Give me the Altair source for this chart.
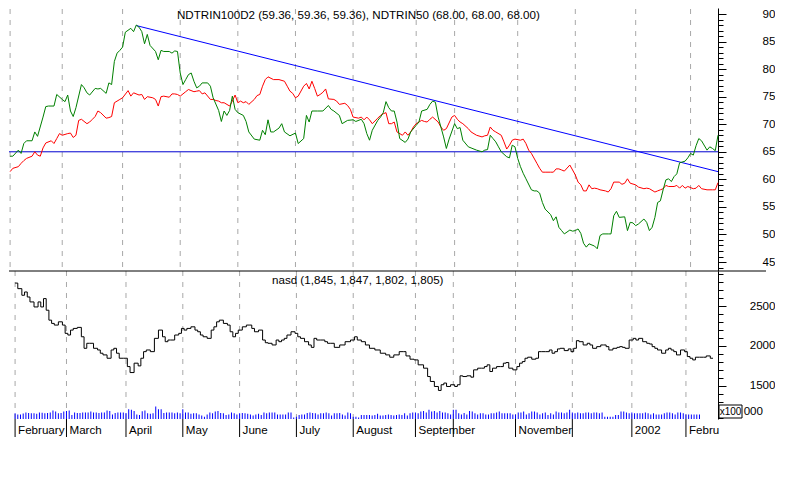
import altair as alt
import pandas as pd

FONT = "Liberation Sans"
FS = 11.6
W, H1, H2 = 709, 263, 148
X_DOMAIN = [-0.4, 258]
UP_DOMAIN = [43.37, 91.09]
LOW_DOMAIN = [1082, 2943]
VOL_DOMAIN = [0, 518]

title_up = "NDTRIN100D2 (59.36, 59.36, 59.36), NDTRIN50 (68.00, 68.00, 68.00)"
title_low = "nasd (1,845, 1,847, 1,802, 1,805)"

# trading-day index : value
red_series = {
    0: 61.4, 1: 62.0, 3: 62.3, 4: 62.9, 5: 63.4, 6: 63.8, 8: 64.2, 9: 65.0, 10: 64.4, 11: 64.2,
    12: 65.7, 13: 66.6, 15: 67.0, 16: 66.5, 17: 67.4, 18: 68.3, 19: 68.0, 21: 68.3, 22: 68.4, 23: 67.6,
    24: 68.0, 25: 70.7, 26: 70.9, 28: 70.1, 29: 70.4, 30: 70.9, 31: 71.4, 32: 72.4, 33: 72.1, 35: 71.1,
    36: 71.2, 37: 71.4, 38: 73.9, 40: 74.5, 41: 74.8, 43: 76.1, 44: 75.1, 45: 75.7, 47: 75.3, 48: 75.4,
    49: 74.5, 50: 75.0, 52: 74.8, 53: 74.5, 54: 73.3, 55: 75.0, 56: 75.1, 58: 74.9, 59: 75.5, 60: 75.5,
    61: 75.4, 62: 75.1, 64: 75.9, 65: 76.3, 67: 75.9, 68: 76.0, 69: 76.1, 70: 75.5, 71: 75.7, 73: 74.5,
    74: 74.5, 75: 74.3, 76: 74.2, 77: 73.9, 78: 73.9, 80: 73.3, 81: 74.2, 82: 75.3, 83: 73.9, 84: 74.2,
    85: 73.9, 86: 74.1, 87: 73.6, 89: 74.5, 90: 75.2, 91: 75.4, 92: 76.9, 93: 78.1, 94: 78.6, 96: 78.1,
    98: 78.1, 100: 77.8, 101: 76.9, 102: 76.0, 103: 75.6, 104: 74.8, 105: 75.1, 107: 76.9, 108: 77.4, 109: 76.4,
    110: 77.8, 111: 76.5, 112: 75.1, 113: 75.4, 114: 75.8, 115: 76.4, 116: 74.6, 118: 74.5, 119: 74.2, 120: 73.6,
    122: 73.8, 123: 73.4, 124: 72.7, 125: 71.3, 127: 71.1, 128: 71.3, 129: 70.8, 130: 71.3, 131: 70.8, 132: 70.1,
    134: 71.1, 135: 71.6, 136: 71.9, 137: 72.1, 138: 70.1, 139: 70.1, 140: 70.4, 141: 68.6, 143: 68.0, 144: 68.6,
    145: 68.0, 146: 68.6, 147: 69.5, 148: 70.1, 150: 70.7, 151: 70.5, 152: 70.4, 153: 70.9, 154: 71.3, 156: 70.4,
    157: 69.5, 158: 68.9, 159: 69.2, 161: 71.3, 162: 71.6, 163: 70.9, 164: 70.4, 165: 70.1, 167: 69.2, 168: 68.6,
    170: 68.0, 172: 67.7, 173: 67.9, 174: 68.0, 175: 69.5, 176: 68.9, 177: 68.6, 179: 68.0, 180: 66.8, 181: 65.5,
    182: 66.2, 183: 67.1, 184: 67.3, 186: 67.1, 187: 67.3, 188: 66.5, 189: 65.3, 190: 64.7, 192: 62.9, 193: 62.0,
    194: 61.3, 195: 61.3, 197: 61.3, 198: 61.3, 199: 61.9, 200: 61.9, 201: 61.7, 202: 61.5, 204: 62.6, 205: 61.7,
    206: 60.8, 207: 59.5, 208: 59.0, 209: 57.9, 210: 57.9, 211: 59.0, 212: 58.3, 213: 58.4, 214: 58.3, 215: 58.1,
    217: 57.9, 218: 57.7, 219: 58.3, 220: 59.5, 222: 59.5, 223: 59.1, 224: 59.3, 225: 60.1, 226: 59.3, 228: 59.0,
    229: 58.6, 231: 58.3, 232: 58.4, 233: 58.3, 235: 57.7, 236: 57.9, 237: 58.1, 238: 58.3, 239: 58.9, 240: 58.7,
    242: 58.7, 243: 58.9, 244: 58.4, 245: 58.9, 246: 58.4, 247: 58.7, 249: 58.3, 250: 58.4, 251: 58.9, 252: 58.3,
    254: 58.1, 256: 58.1, 257: 58.1, 258: 59.4,
}

green_series = {
    0: 64.2, 1: 64.2, 3: 65.3, 4: 64.7, 5: 66.5, 6: 67.0, 8: 67.0, 9: 68.6, 10: 67.8, 12: 71.3,
    13: 73.2, 14: 73.3, 16: 73.3, 17: 75.4, 19: 74.5, 20: 74.1, 21: 75.3, 22: 72.4, 23: 71.4, 24: 73.0,
    26: 77.2, 27: 76.6, 28: 75.7, 29: 75.3, 31: 76.5, 32: 76.4, 33: 76.5, 35: 75.6, 36: 77.5, 37: 77.2,
    38: 81.4, 39: 82.9, 40: 83.4, 41: 84.0, 42: 86.7, 44: 87.4, 45: 86.8, 46: 88.0, 47: 87.6, 48: 86.8,
    49: 84.6, 50: 86.3, 51: 84.3, 53: 83.2, 54: 81.7, 55: 83.4, 56: 83.2, 58: 83.2, 59: 82.9, 60: 83.3,
    61: 83.2, 62: 79.3, 63: 77.2, 64: 78.1, 65: 79.0, 66: 79.3, 67: 77.8, 68: 76.6, 69: 76.9, 70: 77.5,
    72: 77.5, 73: 76.9, 74: 74.8, 76: 72.5, 77: 70.5, 78: 72.4, 79: 71.6, 80: 72.5, 81: 75.1, 82: 72.7,
    83: 72.1, 85: 71.6, 86: 70.5, 87: 68.6, 89: 67.3, 91: 67.1, 92: 68.9, 93: 68.1, 94: 70.8, 95: 68.6,
    96: 68.6, 98: 69.3, 99: 70.1, 100: 68.6, 102: 67.9, 104: 68.4, 105: 66.5, 107: 67.4, 108: 71.6, 109: 70.4,
    110: 72.4, 112: 72.4, 114: 72.4, 116: 73.4, 117: 72.7, 118: 72.4, 120: 71.6, 121: 70.1, 123: 70.7, 125: 70.8,
    126: 70.5, 128: 70.9, 129: 70.1, 130: 68.3, 131: 67.1, 132: 68.9, 134: 70.7, 135: 71.3, 136: 72.1, 137: 74.1,
    138: 73.0, 139: 72.4, 140: 72.4, 141: 70.4, 142: 67.4, 144: 66.7, 145: 67.3, 146: 68.6, 148: 69.8, 149: 70.4,
    150: 72.4, 152: 72.7, 153: 73.6, 154: 74.2, 155: 74.0, 156: 71.3, 157: 69.5, 158: 67.7, 159: 65.6, 160: 67.3,
    162: 70.1, 163: 69.2, 164: 69.4, 165: 67.1, 167: 65.9, 168: 65.7, 170: 65.3, 172: 65.0, 173: 65.3, 174: 65.4,
    175: 68.0, 176: 67.4, 177: 66.8, 178: 65.9, 179: 65.0, 181: 64.1, 182: 63.9, 183: 66.2, 184: 65.9, 185: 63.8,
    186: 62.3, 187: 61.1, 188: 60.1, 190: 58.1, 191: 57.9, 192: 57.9, 193: 57.5, 194: 55.8, 195: 54.6, 197: 53.6,
    198: 52.5, 199: 53.2, 200: 51.3, 201: 50.7, 202: 50.1, 204: 50.8, 205: 50.6, 206: 50.7, 207: 51.0, 208: 50.2,
    209: 48.4, 210: 47.7, 211: 48.3, 213: 47.9, 214: 47.4, 215: 49.8, 216: 50.1, 218: 50.1, 219: 50.1, 220: 53.4,
    221: 54.2, 222: 53.1, 224: 53.2, 225: 50.7, 226: 52.2, 227: 52.1, 228: 51.6, 229: 51.9, 231: 52.8, 232: 52.2,
    233: 50.7, 234: 51.3, 235: 53.1, 236: 55.8, 237: 56.1, 238: 58.1, 239: 59.9, 240: 60.1, 241: 59.6, 242: 60.5,
    243: 61.0, 244: 63.0, 246: 63.3, 247: 63.9, 248: 64.7, 249: 64.4, 250: 66.1, 251: 67.4, 252: 67.0, 254: 65.3,
    255: 65.9, 256: 65.6, 257: 65.2, 258: 68.0,
}

nasd_series = {
    0: 2791, 2: 2721, 3: 2638, 4: 2679, 5: 2616, 6: 2554, 8: 2491, 9: 2554, 10: 2491, 11: 2596,
    12: 2450, 13: 2325, 14: 2284, 15: 2263, 17: 2304, 18: 2263, 19: 2159, 20: 2138, 21: 2200, 22: 2221,
    24: 2234, 25: 2116, 26: 1971, 27: 2034, 28: 2034, 30: 1971, 31: 1950, 32: 1909, 33: 1888, 35: 1846,
    36: 1950, 37: 1971, 38: 1909, 39: 1846, 41: 1846, 42: 1741, 43: 1666, 45: 1784, 46: 1750, 47: 1846,
    48: 1929, 49: 1950, 51: 1929, 52: 2096, 54: 2200, 55: 2116, 56: 2054, 57: 2075, 58: 2075, 60: 2138,
    61: 2159, 62: 2221, 63: 2200, 64: 2221, 66: 2241, 67: 2200, 68: 2179, 69: 2138, 70: 2116, 72: 2096,
    73: 2200, 74: 2241, 75: 2304, 76: 2325, 78: 2284, 79: 2263, 80: 2179, 81: 2116, 82: 2159, 83: 2200,
    85: 2241, 86: 2263, 87: 2263, 88: 2221, 89: 2179, 91: 2200, 92: 2075, 93: 2041, 94: 2034, 96: 2013,
    97: 2075, 98: 2054, 99: 2075, 100: 2096, 101: 2138, 103: 2179, 104: 2159, 105: 2116, 106: 2096, 108: 2054,
    109: 2013, 110: 1983, 111: 2096, 112: 2075, 114: 2075, 115: 2054, 116: 2034, 117: 2034, 119: 1983, 121: 2013,
    123: 2054, 125: 2075, 126: 2116, 127: 2075, 129: 2054, 130: 2013, 132: 1971, 134: 1950, 136: 1909, 138: 1888,
    139: 1859, 141: 1888, 143: 1929, 144: 1929, 145: 1875, 147: 1834, 148: 1825, 150: 1763, 152: 1721, 153: 1616,
    154: 1554, 156: 1491, 157: 1441, 158: 1513, 159: 1534, 160: 1491, 162: 1513, 163: 1491, 164: 1513, 165: 1625,
    166: 1616, 168: 1625, 169: 1608, 170: 1700, 172: 1721, 173: 1721, 174: 1741, 175: 1763, 176: 1679, 177: 1721,
    179: 1741, 180: 1741, 181: 1784, 182: 1792, 183: 1721, 185: 1700, 186: 1741, 187: 1784, 188: 1804, 189: 1846,
    190: 1859, 192: 1834, 193: 1846, 194: 1929, 195: 1929, 197: 1929, 198: 1950, 199: 1909, 200: 1929, 201: 1963,
    202: 1971, 204: 1942, 205: 1963, 206: 1929, 207: 1971, 208: 2067, 209: 2054, 211: 2013, 212: 2034, 213: 2013,
    214: 1971, 216: 1992, 217: 2013, 218: 2013, 219: 1992, 220: 1950, 222: 1971, 223: 1983, 224: 1992, 225: 1983,
    226: 1971, 228: 2075, 229: 2096, 230: 2075, 231: 2096, 233: 2054, 234: 2034, 235: 2025, 236: 1992, 237: 1971,
    238: 1950, 240: 1909, 241: 1950, 242: 1971, 243: 1950, 244: 1929, 245: 1888, 247: 1950, 248: 1929, 249: 1867,
    250: 1846, 251: 1825, 252: 1859, 254: 1859, 255: 1859, 256: 1875, 258: 1846,
}

# daily volume (x100 units)
volume = [
    20, 16, 16, 19, 23, 21, 20, 20, 18, 23, 22, 20, 21, 23, 30, 26, 20, 21, 26, 28,
    30, 14, 23, 21, 21, 23, 23, 23, 26, 23, 23, 21, 23, 23, 30, 28, 16, 21, 23, 23,
    23, 21, 34, 32, 28, 16, 14, 27, 30, 20, 18, 20, 44, 34, 34, 21, 23, 23, 23, 20,
    23, 20, 34, 23, 23, 18, 20, 20, 16, 12, 8, 16, 23, 20, 26, 28, 21, 20, 14, 16,
    23, 20, 16, 20, 21, 20, 18, 16, 12, 16, 18, 14, 23, 20, 23, 23, 23, 16, 16, 16,
    16, 23, 23, 5, 8, 14, 16, 16, 21, 23, 21, 20, 16, 20, 20, 23, 20, 12, 20, 20,
    21, 16, 12, 23, 20, 8, 8, 5, 14, 14, 14, 14,
    12, 14, 18, 12, 12, 14, 16, 14, 12, 14, 16, 14, 20, 12, 20, 23, 23, 20, 26, 28,
    23, 32, 26, 28, 23, 28, 23, 23, 20, 16, 32, 32, 20, 16, 21, 16, 28, 26, 20, 16,
    20, 20, 16, 16, 20, 20, 23, 26, 20, 20, 20, 20, 16, 16, 23, 23, 26, 16, 20, 26,
    26, 23, 16, 20, 23, 14, 20, 16, 26, 23, 23, 20, 23, 32, 23, 20, 23, 20, 20, 23,
    23, 20, 23, 23, 20, 23, 8, 8, 8, 8, 14, 14, 26, 26, 23, 20, 23, 20, 20, 20,
    20, 23, 20, 16, 20, 16, 16, 16, 20, 23, 23, 20, 16, 23, 23, 20, 16, 16, 16, 16,
    16, 16,
]

trend_days = [46, 258]
trend_vals = [87.9, 61.4]
level_value = [65]

month_days = [0, 19, 41, 62, 83, 104, 125, 148, 162, 185, 206, 228, 248]
label_days = [0, 19, 41, 62, 83, 104, 125, 148, 185, 228]
label_names = ["February", "March", "April", "May", "June", "July", "August",
               "September", "November", "2002"]
last_label_day = [248]
last_label = ["February"]

up_major = [45, 50, 55, 60, 65, 70, 75, 80, 85, 90]
up_minor = list(range(44, 91))
low_major = [1500, 2000, 2500]
low_minor = list(range(1100, 3000, 100))
week_ticks = [round(2.4 + 5.15 * k, 2) for k in range(50) if 2.4 + 5.15 * k <= 258]

# ---------- data frames ----------
red_df = pd.DataFrame({"day": list(red_series.keys()), "val": list(red_series.values())})
green_df = pd.DataFrame({"day": list(green_series.keys()), "val": list(green_series.values())})
nasd_df = pd.DataFrame({"day": list(nasd_series.keys()), "val": list(nasd_series.values())})
vol_df = pd.DataFrame({"day": list(range(len(volume))), "vol": volume})
vol_df = vol_df[vol_df["day"] <= 258]
trend_df = pd.DataFrame({"day": trend_days, "val": trend_vals})
level_df = pd.DataFrame({"val": level_value})
months_df = pd.DataFrame({"day": month_days})
labels_df = pd.DataFrame({"day": label_days, "name": label_names})
last_df = pd.DataFrame({"day": last_label_day, "name": last_label})
one = pd.DataFrame({"a": [0]})


def X(axis=None):
    return alt.X("day:Q", scale=alt.Scale(domain=X_DOMAIN, nice=False, zero=False), axis=axis)


ysu = alt.Scale(domain=UP_DOMAIN, nice=False, zero=False)
ysl = alt.Scale(domain=LOW_DOMAIN, nice=False, zero=False)


def major_axis(values):
    return alt.Axis(orient="right", values=values, format="d", tickSize=8, labelAlign="right",
                    labelPadding=49, grid=False, domain=True, domainColor="black",
                    tickColor="black", labelColor="black", labelFont=FONT,
                    labelFontSize=FS, labelFlush=False, labelOverlap=False, title=None)


def minor_axis(values):
    return alt.Axis(orient="right", values=values, tickSize=5, labels=False, grid=False,
                    domain=False, tickColor="black", title=None)


GRID = dict(color="#a8a8a8", strokeDash=[5, 6], strokeWidth=1)

# ---------- upper panel ----------
grid_up = alt.Chart(months_df).mark_rule(**GRID).encode(x=X(), y=alt.value(1), y2=alt.value(H1))
hline = alt.Chart(level_df).mark_rule(color="#0000d0", strokeWidth=1).encode(
    y=alt.Y("val:Q", scale=ysu, axis=None))
trend = alt.Chart(trend_df).mark_line(color="#0000ff", strokeWidth=1).encode(
    x=X(), y=alt.Y("val:Q", scale=ysu, axis=None))
red = alt.Chart(red_df).mark_line(color="#ff0000", strokeWidth=1).encode(
    x=X(), y=alt.Y("val:Q", scale=ysu, axis=major_axis(up_major)))
green = alt.Chart(green_df).mark_line(color="#008000", strokeWidth=1).encode(
    x=X(), y=alt.Y("val:Q", scale=ysu, axis=minor_axis(up_minor)))
t_up = alt.Chart(one).mark_text(align="left", baseline="top", font=FONT, fontSize=FS,
                                color="black").encode(
    x=alt.value(168), y=alt.value(2), text=alt.value(title_up))

upper = alt.layer(grid_up, hline, trend, red, green, t_up).resolve_axis(
    y="independent").properties(width=W, height=H1)

# ---------- lower panel ----------
grid_low = alt.Chart(months_df).mark_rule(**GRID).encode(x=X(), y=alt.value(0), y2=alt.value(H2))
sep = alt.Chart(one).mark_rule(color="black", strokeWidth=1).encode(
    x=alt.value(0), x2=alt.value(757), y=alt.value(0))
vol = alt.Chart(vol_df).mark_bar(color="#0000ff", size=1).encode(
    x=X(), y=alt.Y("vol:Q", scale=alt.Scale(domain=VOL_DOMAIN, nice=False), axis=None))
x_axis = alt.Axis(orient="bottom", values=week_ticks, tickSize=3, labels=False, grid=False,
                  domain=True, domainColor="black", tickColor="black", title=None)
nasd = alt.Chart(nasd_df).mark_line(color="black", strokeWidth=1, interpolate="step").encode(
    x=X(axis=x_axis), y=alt.Y("val:Q", scale=ysl, axis=major_axis(low_major)))
nasd_minor = alt.Chart(nasd_df).mark_line(opacity=0).encode(
    x=X(), y=alt.Y("val:Q", scale=ysl, axis=minor_axis(low_minor)))
mticks = alt.Chart(months_df).mark_rule(color="black", strokeWidth=1).encode(
    x=X(), y=alt.value(H2), y2=alt.value(H2 + 18))
mlabels = alt.Chart(labels_df).mark_text(align="left", baseline="middle", dx=3, font=FONT,
                                         fontSize=FS, color="black").encode(
    x=X(), y=alt.value(H2 + 12), text="name:N")
mlast = alt.Chart(last_df).mark_text(align="left", baseline="middle", dx=3, font=FONT,
                                     fontSize=FS, color="black", limit=32,
                                     ellipsis="\u200b").encode(
    x=X(), y=alt.value(H2 + 12), text="name:N")
t_low = alt.Chart(one).mark_text(align="left", baseline="top", font=FONT, fontSize=FS,
                                 color="black").encode(
    x=alt.value(263), y=alt.value(4), text=alt.value(title_low))
box = alt.Chart(one).mark_rect(fill="white", stroke="black", strokeWidth=1).encode(
    x=alt.value(710), x2=alt.value(733), y=alt.value(134), y2=alt.value(147))
t_x100 = alt.Chart(one).mark_text(align="center", baseline="middle", font=FONT, fontSize=10,
                                  color="black").encode(
    x=alt.value(721.5), y=alt.value(141), text=alt.value("x100"))
t_000 = alt.Chart(one).mark_text(align="right", baseline="middle", font=FONT, fontSize=FS,
                                 color="black").encode(
    x=alt.value(754), y=alt.value(141), text=alt.value("000"))

lower = alt.layer(grid_low, sep, vol, nasd, nasd_minor, mticks, mlabels, mlast, t_low,
                  box, t_x100, t_000).resolve_scale(y="independent").resolve_axis(
    y="independent").properties(width=W, height=H2)

chart = alt.vconcat(upper, lower, spacing=0, bounds="flush").properties(
    padding=0, background="white", autosize=alt.AutoSizeParams(type="pad")
).configure_view(stroke=None)

chart.save("out.html", embed_options={"renderer": "svg", "actions": False})
